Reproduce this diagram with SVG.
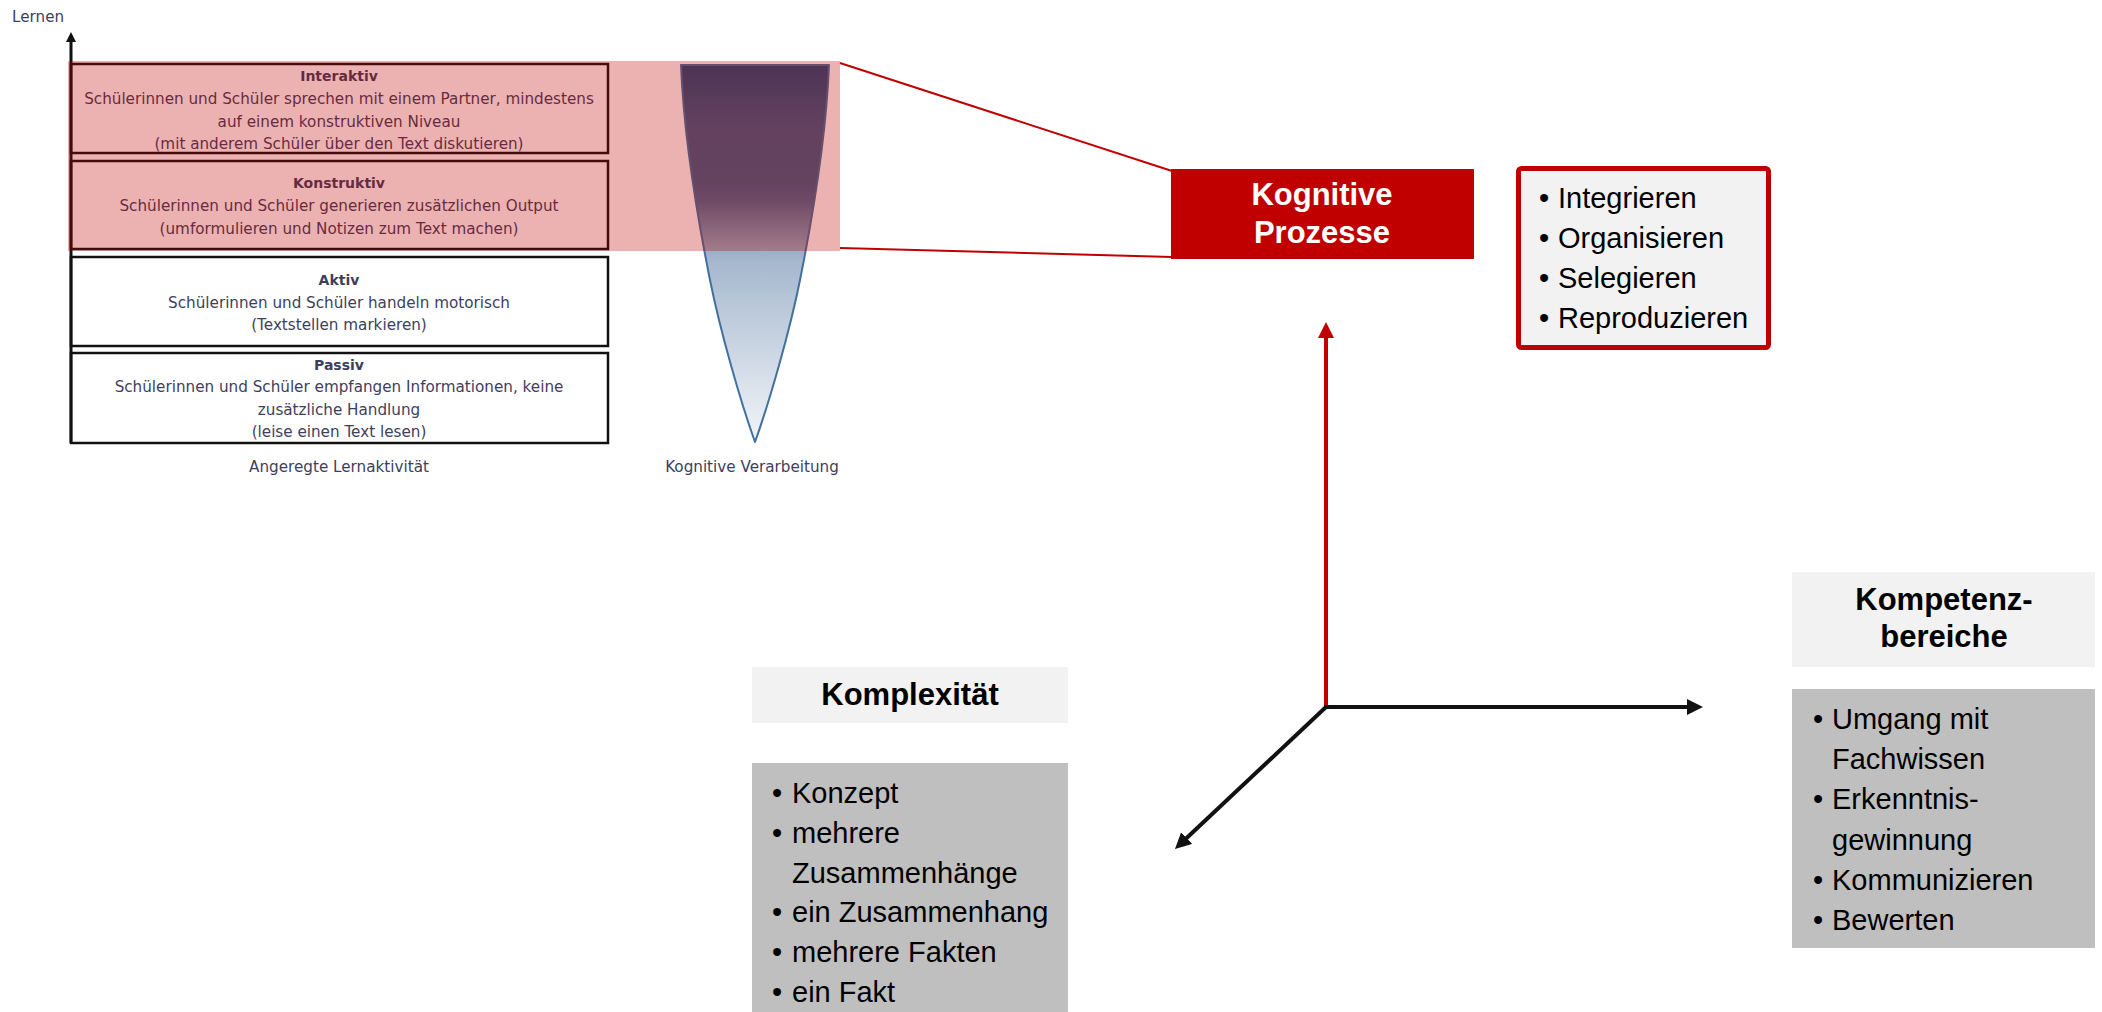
<svg xmlns="http://www.w3.org/2000/svg" width="2102" height="1012" viewBox="0 0 2102 1012">
<style>
  .lt { font-family: "DejaVu Sans", sans-serif; font-size: 15.2px; fill: #3E3E5E; text-anchor: middle; }
  .lt-b { font-family: "DejaVu Sans", sans-serif; font-size: 14px; font-weight: bold; fill: #3E3E5E; text-anchor: middle; }
  .lbox { fill: #FFFFFF; stroke: #111111; stroke-width: 2.5; }
  .title { font-family: "Liberation Sans", Arial, sans-serif; font-size: 31px; font-weight: bold; fill: #000000; text-anchor: middle; }
  .item { font-family: "Liberation Sans", Arial, sans-serif; font-size: 29px; fill: #000000; }
  .bul { font-family: "Liberation Sans", Arial, sans-serif; font-size: 29px; fill: #000000; text-anchor: middle; }
  .light { fill: #F2F2F2; }
  .grey { fill: #BFBFBF; }
  .ax-black { stroke: #111111; stroke-width: 4; fill: none; }
  .ax-red { stroke: #C00000; stroke-width: 4; fill: none; }
  .zoomline { stroke: #C00000; stroke-width: 2; fill: none; }
</style>
<defs>
  <marker id="headBlack" markerUnits="userSpaceOnUse" viewBox="0 0 16 16" markerWidth="16" markerHeight="16" refX="8" refY="8" orient="auto">
    <path d="M0,0 L16,8 L0,16 z" fill="#111111"/>
  </marker>
  <marker id="headRed" markerUnits="userSpaceOnUse" viewBox="0 0 16 16" markerWidth="16" markerHeight="16" refX="8" refY="8" orient="auto">
    <path d="M0,0 L16,8 L0,16 z" fill="#C00000"/>
  </marker>
  <marker id="headSmall" markerUnits="userSpaceOnUse" viewBox="0 0 10 10" markerWidth="10" markerHeight="10" refX="5" refY="5" orient="auto">
    <path d="M0,0 L10,5 L0,10 z" fill="#111111"/>
  </marker>
  <linearGradient id="funnelGrad" gradientUnits="userSpaceOnUse" x1="0" y1="65" x2="0" y2="442">
    <stop offset="0" stop-color="#1C4A7C"/>
    <stop offset="0.17" stop-color="#3B5E88"/>
    <stop offset="0.31" stop-color="#3D6089"/>
    <stop offset="0.36" stop-color="#4B6A92"/>
    <stop offset="0.44" stop-color="#7997B1"/>
    <stop offset="0.49" stop-color="#96AFC6"/>
    <stop offset="0.52" stop-color="#A6B8CE"/>
    <stop offset="1" stop-color="#F2F5F9"/>
  </linearGradient>
</defs>
<rect width="2102" height="1012" fill="#FFFFFF"/>

<text id="label-lernen" x="12" y="22" class="lt" style="text-anchor:start">Lernen</text>

<g id="box-interaktiv">
  <rect class="lbox" x="71" y="64" width="537" height="89"/>
  <text class="lt-b" x="339" y="81">Interaktiv</text>
  <text class="lt" x="339" y="104">Schülerinnen und Schüler sprechen mit einem Partner, mindestens</text>
  <text class="lt" x="339" y="127">auf einem konstruktiven Niveau</text>
  <text class="lt" x="339" y="149">(mit anderem Schüler über den Text diskutieren)</text>
</g>
<g id="box-konstruktiv">
  <rect class="lbox" x="71" y="161" width="537" height="88"/>
  <text class="lt-b" x="339" y="188">Konstruktiv</text>
  <text class="lt" x="339" y="211">Schülerinnen und Schüler generieren zusätzlichen Output</text>
  <text class="lt" x="339" y="234">(umformulieren und Notizen zum Text machen)</text>
</g>
<g id="box-aktiv">
  <rect class="lbox" x="71" y="257" width="537" height="89"/>
  <text class="lt-b" x="339" y="285">Aktiv</text>
  <text class="lt" x="339" y="308">Schülerinnen und Schüler handeln motorisch</text>
  <text class="lt" x="339" y="330">(Textstellen markieren)</text>
</g>
<g id="box-passiv">
  <rect class="lbox" x="71" y="353" width="537" height="90"/>
  <text class="lt-b" x="339" y="370">Passiv</text>
  <text class="lt" x="339" y="392">Schülerinnen und Schüler empfangen Informationen, keine</text>
  <text class="lt" x="339" y="415">zusätzliche Handlung</text>
  <text class="lt" x="339" y="437">(leise einen Text lesen)</text>
</g>
<text id="label-angeregt" class="lt" x="339" y="472">Angeregte Lernaktivität</text>

<g id="funnel">
  <path d="M681,65 L829,65 C826,140 812,220 800,280 C790,330 770,400 755,442 C740,400 720,330 710,280 C698,220 684,140 681,65 Z" fill="url(#funnelGrad)" stroke="#41719C" stroke-width="2" stroke-linejoin="round"/>
  <text class="lt" x="752" y="472">Kognitive Verarbeitung</text>
</g>

<g id="connectors">
  <line class="ax-black" style="stroke-width:3" x1="71" y1="443" x2="71" y2="37" marker-end="url(#headSmall)"/>
  <line class="zoomline" x1="840" y1="63" x2="1172" y2="171"/>
  <line class="zoomline" x1="840" y1="248" x2="1172" y2="257"/>
  <line class="ax-red" x1="1326" y1="707" x2="1326" y2="330" marker-end="url(#headRed)"/>
  <line class="ax-black" x1="1324" y1="707" x2="1695" y2="707" marker-end="url(#headBlack)"/>
  <line class="ax-black" x1="1326" y1="707" x2="1180.8" y2="843.5" marker-end="url(#headBlack)"/>
</g>

<rect id="highlight" x="68" y="61" width="772" height="190" fill="#C00000" fill-opacity="0.3"/>

<g id="node-kognitive-prozesse">
  <rect x="1171" y="169" width="303" height="90" fill="#C00000"/>
  <text class="title" x="1322" y="205" style="fill:#FFFFFF">Kognitive</text>
  <text class="title" x="1322" y="243" style="fill:#FFFFFF">Prozesse</text>
</g>

<g id="list-kognitive">
  <rect x="1518.5" y="168.5" width="250" height="179" rx="3" fill="#F2F2F2" stroke="#C00000" stroke-width="5"/>
  <text class="bul" x="1544" y="208">•</text><text class="item" x="1558" y="208">Integrieren</text>
  <text class="bul" x="1544" y="248">•</text><text class="item" x="1558" y="248">Organisieren</text>
  <text class="bul" x="1544" y="288">•</text><text class="item" x="1558" y="288">Selegieren</text>
  <text class="bul" x="1544" y="328">•</text><text class="item" x="1558" y="328">Reproduzieren</text>
</g>

<g id="node-komplexitaet">
  <rect class="light" x="752" y="667" width="316" height="56"/>
  <text class="title" x="910" y="705">Komplexität</text>
</g>

<g id="list-komplexitaet">
  <rect class="grey" x="752" y="763" width="316" height="249"/>
  <text class="bul" x="777" y="803">•</text><text class="item" x="792" y="803">Konzept</text>
  <text class="bul" x="777" y="843">•</text><text class="item" x="792" y="843">mehrere</text>
  <text class="item" x="792" y="883">Zusammenhänge</text>
  <text class="bul" x="777" y="922">•</text><text class="item" x="792" y="922">ein Zusammenhang</text>
  <text class="bul" x="777" y="962">•</text><text class="item" x="792" y="962">mehrere Fakten</text>
  <text class="bul" x="777" y="1002">•</text><text class="item" x="792" y="1002">ein Fakt</text>
</g>

<g id="node-kompetenzbereiche">
  <rect class="light" x="1792" y="572" width="303" height="95"/>
  <text class="title" x="1944" y="610">Kompetenz-</text>
  <text class="title" x="1944" y="647">bereiche</text>
</g>

<g id="list-kompetenzbereiche">
  <rect class="grey" x="1792" y="689" width="303" height="259"/>
  <text class="bul" x="1818" y="729">•</text><text class="item" x="1832" y="729">Umgang mit</text>
  <text class="item" x="1832" y="769">Fachwissen</text>
  <text class="bul" x="1818" y="809">•</text><text class="item" x="1832" y="809">Erkenntnis-</text>
  <text class="item" x="1832" y="850">gewinnung</text>
  <text class="bul" x="1818" y="890">•</text><text class="item" x="1832" y="890">Kommunizieren</text>
  <text class="bul" x="1818" y="930">•</text><text class="item" x="1832" y="930">Bewerten</text>
</g>
</svg>
